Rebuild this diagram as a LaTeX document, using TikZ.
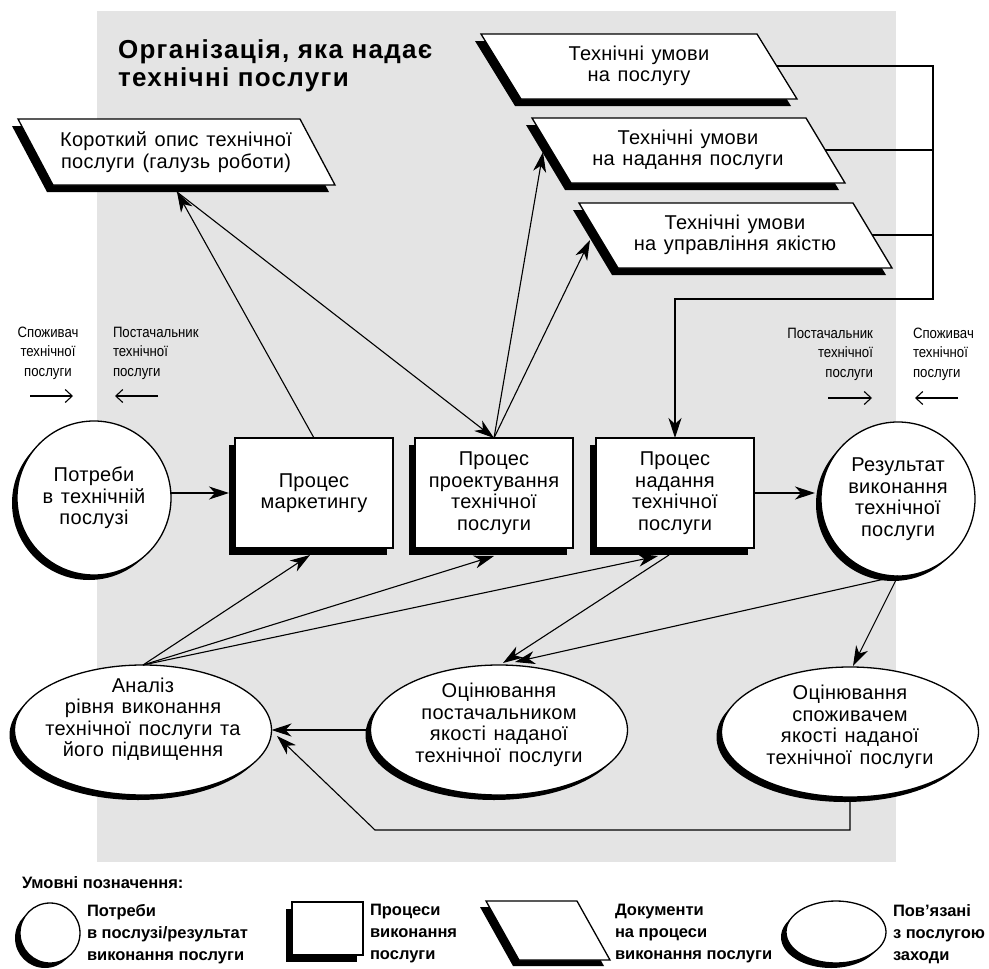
\documentclass[tikz,border=0pt]{standalone}
\usepackage{fontspec}
\setmainfont{Liberation Sans}[LetterSpace=1.5,WordSpace=1.3]
\newfontfamily\narrowfont[FakeStretch=0.88]{Liberation Sans}
\newfontfamily\legfont{Liberation Sans}
\newfontfamily\titlefont[LetterSpace=5]{Liberation Sans}
\usetikzlibrary{arrows.meta,shadows,shapes.geometric,calc}
\definecolor{bg}{HTML}{E4E4E4}
\begin{document}
\begin{tikzpicture}[x=1pt,y=-1pt,
 every node/.style={inner sep=0pt,outer sep=0pt},
 txt/.style={font=\fontsize{20}{21.5}\selectfont, align=center},
 small/.style={font=\narrowfont\fontsize{15}{19.5}\selectfont},
 legtxt/.style={font=\legfont\bfseries\fontsize{16.5}{22}\selectfont, align=left, anchor=west},
 conn/.style={line width=1.1pt, -{Stealth[length=20pt,width=13pt,inset=6pt]}},
 plain/.style={line width=1.1pt},
 smallarr/.style={line width=1.1pt, -{Straight Barb[length=7pt,width=13pt]}},
 shd/.style={drop shadow={shadow xshift=-5pt,shadow yshift=-5pt,opacity=1,fill=black}},
 boxshd/.style={drop shadow={shadow xshift=-6pt,shadow yshift=-7pt,opacity=1,fill=black}},
 proc/.style={draw, line width=1.3pt, fill=white, minimum width=158, minimum height=110, boxshd, txt},
 need/.style={circle, draw, line width=1.3pt, fill=white, minimum size=154, shd, txt},
 act/.style={ellipse, draw, line width=1.3pt, fill=white, minimum width=257, minimum height=130, shd},
 doc/.style={fill=white, draw, line width=1.3pt},
]
\useasboundingbox (0,0) rectangle (989,969);
\fill[bg] (97,11) rectangle (896,862);

% title
\node[anchor=west, align=left, font=\titlefont\bfseries\fontsize{26}{28}\selectfont] (title) at (118,66) {Організація, яка надає\\технічні послуги};

% documents
\fill (12,126) -- (294,126) -- (329,192) -- (47,192) -- cycle;
\filldraw[doc] (18,119) -- (300,119) -- (335,185) -- (53,185) -- cycle;
\node[txt] (pk) at (176,152) {Короткий опис технічної\\послуги (галузь роботи)};

\fill (475,41) -- (751,41) -- (791,106) -- (515,106) -- cycle;
\filldraw[doc] (481,34) -- (757,34) -- (797,99) -- (521,99) -- cycle;
\node[txt] (p1) at (639,66) {Технічні умови\\на послугу};

\fill (526,125) -- (800,125) -- (839,190) -- (565,190) -- cycle;
\filldraw[doc] (532,118) -- (806,118) -- (845,183) -- (571,183) -- cycle;
\node[txt] (p2) at (688,150) {Технічні умови\\на надання послуги};

\fill (573,210) -- (847,210) -- (886,275) -- (612,275) -- cycle;
\filldraw[doc] (579,203) -- (853,203) -- (892,268) -- (618,268) -- cycle;
\node[txt] (p3) at (735,235) {Технічні умови\\на управління якістю};

\coordinate (p1r) at (777,66);
\coordinate (p2r) at (825,150);
\coordinate (p3r) at (872,235);
\coordinate (brk) at (933,299);
\coordinate (pkb) at (177,192);
\coordinate (p2in) at (543,152);
\coordinate (p3in) at (590,240);

% processes
\node[proc] (b1) at (314,493) {Процес\\маркетингу};
\node[proc] (b2) at (494,493) {Процес\\проектування\\технічної\\послуги};
\node[proc] (b3) at (675,493) {Процес\\надання\\технічної\\послуги};

% needs / result
\node[need] (c1) at (94,498) {Потреби\\в технічній\\послузі};
\node[need] (c2) at (898,499) {Результат\\виконання\\технічної\\послуги};

% activities
\node[act] (e1) at (143,730) {};
\node[txt] (t1) at (143,719) {Аналіз\\рівня виконання\\технічної послуги та\\його підвищення};
\node[act] (e2) at (499,730) {};
\node[txt] (t2) at (499,725) {Оцінювання\\постачальником\\якості наданої\\технічної послуги};
\node[act] (e3) at (850,732) {};
\node[txt] (t3) at (850,727) {Оцінювання\\споживачем\\якості наданої\\технічної послуги};

% connectors
\draw[conn] (p1r) -- (p1r -| brk) -- (brk) -| (b3.north);
\draw[plain] (p2r) -- (p2r -| brk);
\draw[plain] (p3r) -- (p3r -| brk);
\draw[conn] (b1.north) -- (pkb);
\draw[conn] (pkb) -- (b2.north);
\draw[conn] (b2.north) -- (p2in);
\draw[conn] (b2.north) -- (p3in);
\draw[conn] (c1.east |- b1.west) -- ($(b1.west)+(-6,0)$);
\draw[conn] (b3.east) -- ($(b3.east -| c2.west)+(-6,0)$);
\draw[conn] (e1.north) -- ($(b1.south)+(-4,7)$);
\draw[conn] (e1.north) -- ($(b2.south)+(0,8)$);
\draw[conn] (e1.north) -- ($(b3.south)+(-17,8)$);
\draw[conn] ($(b3.south)+(-6,7)$) -- ($(e2.north)+(4,-2)$);
\draw[conn] (c2.south) -- ($(e2.north)+(16,-3)$);
\draw[conn] (c2.south) -- ($(e3.north)+(3,-1)$);
\draw[conn] (e2.west) -- (e1.east);
\coordinate (fb) at (375,830);
\coordinate (e1in) at (277,736);
\draw[conn] (e3.south) -- (e3.south |- fb) -- (fb) -- (e1in);

% side labels
\node[small, align=center] (lc) at (48,353) {Споживач\\технічної\\послуги};
\node[small, align=left, anchor=west] (ls) at (113,353) {Постачальник\\технічної\\послуги};
\node[small, align=right, anchor=east] (rs) at (873,354) {Постачальник\\технічної\\послуги};
\node[small, align=left, anchor=west] (rc) at (913,354) {Споживач\\технічної\\послуги};
\coordinate (a1s) at (30,396); \coordinate (a1e) at (73,396);
\coordinate (a2s) at (158,396); \coordinate (a2e) at (115,396);
\coordinate (a3s) at (828,398); \coordinate (a3e) at (872,398);
\coordinate (a4s) at (958,398); \coordinate (a4e) at (915,398);
\draw[smallarr] (a1s) -- (a1e);
\draw[smallarr] (a2s) -- (a2e);
\draw[smallarr] (a3s) -- (a3e);
\draw[smallarr] (a4s) -- (a4e);

% legend
\node[anchor=west, font=\legfont\bfseries\fontsize{16.5}{22}\selectfont] (lg) at (22,883) {Умовні позначення:};
\node[circle, draw, line width=1.3pt, fill=white, minimum size=60, shd] (lg1) at (50,933) {};
\node[legtxt] (lt1) at (87,934) {Потреби\\в послузі/результат\\виконання послуги};
\node[draw, line width=1.3pt, fill=white, minimum width=71, minimum height=53, boxshd] (lg2) at (327.5,928.5) {};
\node[legtxt] (lt2) at (370,934) {Процеси\\виконання\\послуги};
\fill (480,907) -- (571,907) -- (604,966) -- (513,966) -- cycle;
\filldraw[doc] (486,901) -- (577,901) -- (610,960) -- (519,960) -- cycle;
\node[legtxt] (lt3) at (615,934) {Документи\\на процеси\\виконання послуги};
\node[ellipse, draw, line width=1.3pt, fill=white, minimum width=100, minimum height=62, shd] (lg4) at (836,932) {};
\node[legtxt] (lt4) at (893,934) {Пов’язані\\з послугою\\заходи};
\end{tikzpicture}
\end{document}
